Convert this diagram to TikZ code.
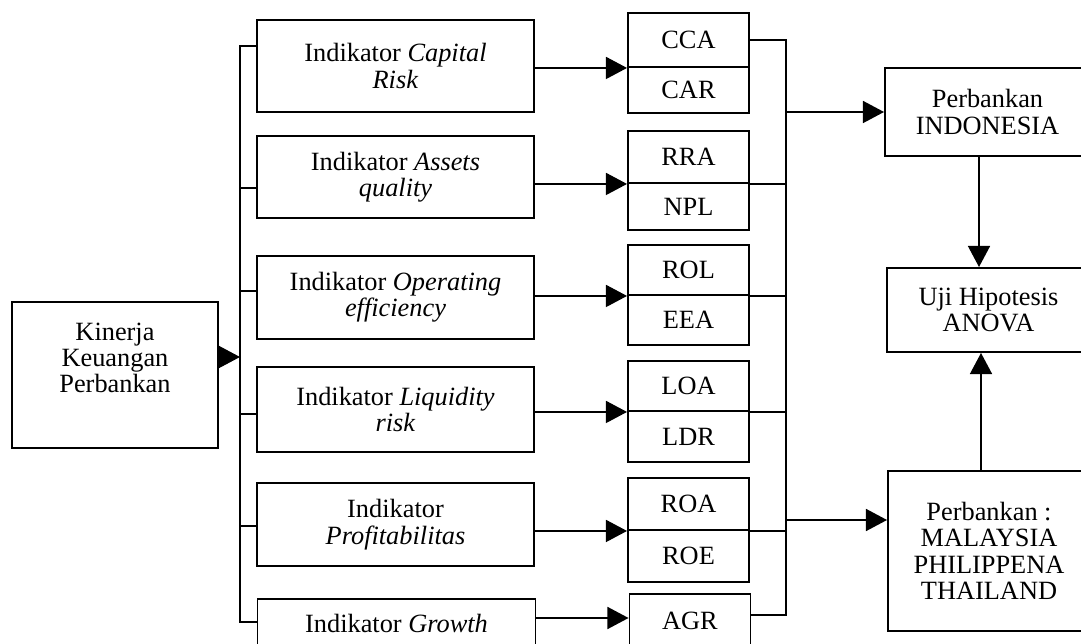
\documentclass[tikz,border=0pt]{standalone}
\usepackage{fontspec}
\setmainfont{Liberation Serif}
\usetikzlibrary{arrows.meta}
\tikzset{
  box/.style={draw, line width=1.1pt, inner sep=0pt, align=center, font=\fs},
  txt/.style={inner sep=0pt, align=center, font=\fs},
  conn/.style={line width=1pt},
  arr/.style={line width=1pt, -{Triangle[length=12pt,width=12.5pt]}},
}
\newcommand{\fs}{\fontsize{15pt}{15pt}\selectfont}
\begin{document}
\begin{tikzpicture}[x=0.02cm, y=-0.02cm]
\useasboundingbox (0,0) rectangle (1081,644);
\clip (0,0) rectangle (1081,644);
\fill[white] (0,0) rectangle (1081,644);

% left box
\node[box, minimum width=206*0.02cm, minimum height=146*0.02cm] (kin) at (115,375) {};
\node[txt] (kint) at (115,358) {Kinerja\\Keuangan\\Perbankan};

% indicator boxes
\node[box, minimum width=277*0.02cm, minimum height=92*0.02cm] (ind1) at (395.5,66) {Indikator \textit{Capital}\\\textit{Risk}};
\node[box, minimum width=277*0.02cm, minimum height=82*0.02cm] (ind2) at (395.5,177) {Indikator \textit{Assets}\\\textit{quality}};
\node[box, minimum width=277*0.02cm, minimum height=83*0.02cm] (ind3) at (395.5,297.5) {Indikator \textit{Operating}\\\textit{efficiency}};
\node[box, minimum width=277*0.02cm, minimum height=85*0.02cm] (ind4) at (395.5,409.5) {Indikator \textit{Liquidity}\\\textit{risk}};
\node[box, minimum width=277*0.02cm, minimum height=83*0.02cm] (ind5) at (395.5,524.5) {Indikator\\\textit{Profitabilitas}};
\node[box, minimum width=278*0.02cm, minimum height=49*0.02cm] (ind6) at (396.5,623.5) {Indikator \textit{Growth}};

% metric boxes
\node[box, minimum width=121*0.02cm, minimum height=54*0.02cm] (cca) at (688.5,40) {CCA};
\node[box, minimum width=121*0.02cm, minimum height=46*0.02cm] (car) at (688.5,90) {CAR};
\node[box, minimum width=121*0.02cm, minimum height=52*0.02cm] (rra) at (688.5,157) {RRA};
\node[box, minimum width=121*0.02cm, minimum height=47*0.02cm] (npl) at (688.5,206.5) {NPL};
\node[box, minimum width=121*0.02cm, minimum height=50*0.02cm] (rol) at (688.5,270) {ROL};
\node[box, minimum width=121*0.02cm, minimum height=50*0.02cm] (eea) at (688.5,320) {EEA};
\node[box, minimum width=121*0.02cm, minimum height=50*0.02cm] (loa) at (688.5,386) {LOA};
\node[box, minimum width=121*0.02cm, minimum height=51*0.02cm] (ldr) at (688.5,436.5) {LDR};
\node[box, minimum width=121*0.02cm, minimum height=52*0.02cm] (roa) at (688.5,504) {ROA};
\node[box, minimum width=121*0.02cm, minimum height=52*0.02cm] (roe) at (688.5,556) {ROE};
\node[box, minimum width=121*0.02cm, minimum height=54*0.02cm] (agr) at (690,621) {AGR};

% right boxes
\node[box, minimum width=205*0.02cm, minimum height=88*0.02cm] (indo) at (987.5,112) {Perbankan\\INDONESIA};
\node[box, minimum width=203*0.02cm, minimum height=84*0.02cm] (uji) at (988.5,310) {Uji Hipotesis\\ANOVA};
\node[box, minimum width=202*0.02cm, minimum height=160*0.02cm] (mal) at (989,551) {Perbankan :\\MALAYSIA\\PHILIPPENA\\THAILAND};

% left bus
\coordinate (L1) at (240,46);
\coordinate (L2) at (240,188);
\coordinate (L3) at (240,291);
\coordinate (L4) at (240,414);
\coordinate (L5) at (240,526);
\coordinate (L6) at (240,622);
\coordinate (K) at (240,357);
\draw[conn] (ind1.west |- L1) -- (L1) -- (L6) -- (ind6.west |- L6);
\draw[conn] (L2) -- (ind2.west |- L2);
\draw[conn] (L3) -- (ind3.west |- L3);
\draw[conn] (L4) -- (ind4.west |- L4);
\draw[conn] (L5) -- (ind5.west |- L5);
\draw[arr] (kin.east |- K) -- (K);

% indicator -> metric arrows
\draw[arr] (cca.south west -| ind1.east) -- (cca.south west);
\draw[arr] (rra.south west -| ind2.east) -- (rra.south west);
\draw[arr] (rol.south west -| ind3.east) -- (rol.south west);
\draw[arr] (loa.south west -| ind4.east) -- (loa.south west);
\draw[arr] (roa.south west -| ind5.east) -- (roa.south west);
\coordinate (G) at (0,618);
\draw[arr] (G -| ind6.east) -- (G -| agr.west);

% right bus
\coordinate (Rtop) at (786,40);
\coordinate (Rbot) at (786,615);
\draw[conn] (cca.east) -- (Rtop) -- (Rbot) -- (Rbot -| agr.east);
\draw[conn] (rra.south east) -- (rra.south east -| Rtop);
\draw[conn] (rol.south east) -- (rol.south east -| Rtop);
\draw[conn] (loa.south east) -- (loa.south east -| Rtop);
\draw[conn] (roa.south east) -- (roa.south east -| Rtop);
\coordinate (RI) at (786,112);
\coordinate (RM) at (786,520);
\draw[arr] (RI) -- (RI -| indo.west);
\draw[arr] (RM) -- (RM -| mal.west);

% vertical arrows
\coordinate (A1) at (979,0);
\coordinate (A2) at (981,0);
\draw[arr] (indo.south -| A1) -- (uji.north -| A1);
\draw[arr] (mal.north -| A2) -- (uji.south -| A2);
\end{tikzpicture}
\end{document}
